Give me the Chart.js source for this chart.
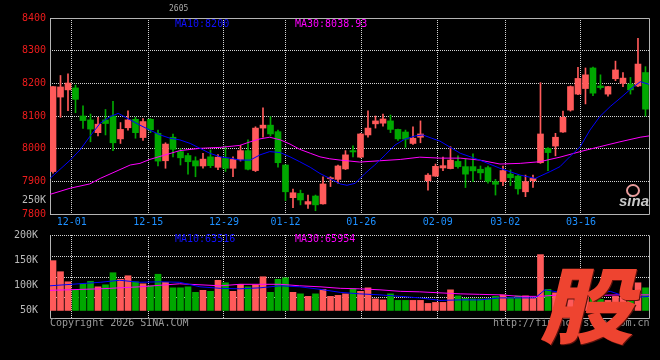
<!DOCTYPE html>
<html>
<head>
<meta charset="utf-8">
<script src="https://cdn.jsdelivr.net/npm/chart.js@4.4.1/dist/chart.umd.min.js"></script>
<style>
  html, body { margin: 0; padding: 0; background: #000; }
  #wrap { position: relative; width: 660px; height: 360px; overflow: hidden; background: #000;
          font-family: 'DejaVu Sans Mono', monospace; font-size: 10px; line-height: 10px; }
  #wrap canvas { position: absolute; left: 0; }
  .txt { position: absolute; white-space: pre; }
  #logo { position: absolute; left: 553px; top: 260px; width: 84px; text-align: center;
          font-family: 'Noto Sans CJK SC'; font-weight: 900;
          font-size: 83px; line-height: 83px; color: #ee4430; transform: scaleX(1.13) skewX(-12deg);
          text-shadow: 1px 1px 0 #5a120c; }
</style>
</head>
<body>
<div id="wrap">
  <canvas id="priceChart" width="660" height="232" style="top:0"></canvas>
  <canvas id="volChart" width="660" height="140" style="top:220px"></canvas>

  <div class="txt" style="left:169px;top:5px;color:#aaa;font-size:8px;line-height:8px">2605</div>
  <div class="txt" style="left:175px;top:19px;color:#1010ff">MA10:8200</div>
  <div class="txt" style="left:295px;top:19px;color:#ff00ff">MA30:8038.93</div>
  <div class="txt" style="left:22px;top:195px;color:#bbb">250K</div>
  <div class="txt" style="left:175px;top:234px;color:#1010ff">MA10:63516</div>
  <div class="txt" style="left:295px;top:234px;color:#ff00ff">MA30:65954</div>
  <div class="txt" style="left:50px;top:318px;color:#999">Copyright 2026 SINA.COM</div>
  <div class="txt" style="left:493px;top:318px;color:#999">http://finance.sina.com.cn</div>

  <div style="position:absolute;left:626px;top:184px;width:10px;height:9px;border:2px solid #e89a9a;border-radius:50%"></div>
  <div class="txt" style="left:619px;top:193px;font-family:'Liberation Sans';font-weight:bold;font-style:italic;font-size:15px;line-height:15px;color:#c8c8c8">sina</div>

  <div id="logo">股</div>
</div>

<script>
const RED = '#ff5a5a';
const GREEN = '#00a800';
const GRID = '#d4d4d4';
const FRAME = '#b4b4b4';

// date ticks (position on the candle index axis) and their labels
const dayTicks = [2.5, 12.7, 22.8, 31, 41.1, 51.3, 60.3, 70.4];
const dayLabels = ['12-01', '12-15', '12-29', '01-12', '01-26', '02-09', '03-02', '03-16'];

const priceTicks = [7800, 7900, 8000, 8100, 8200, 8300, 8400];
const volTicks = [50, 100, 150, 200];
const volBase = 50;

// daily candles, index 0..79
const opens = [7930, 8158, 8180, 8186, 8100, 8088, 8049, 8088, 8100, 8030,
               8064, 8090, 8034, 8090, 8047, 7963, 8035, 7991, 7979, 7963,
               7947, 7975, 7943, 7970, 7940, 7967, 7994, 7933, 8063, 8072,
               8052, 7950, 7850, 7863, 7830, 7855, 7831, 7908, 7906, 7938,
               7994, 7974, 8042, 8076, 8078, 8085, 8059, 8051, 8016, 8035,
               7902, 7916, 7941, 7939, 7961, 7945, 7945, 7937, 7942, 7899,
               7899, 7922, 7916, 7868, 7902, 7957, 8001, 8008, 8051, 8118,
               8167, 8184, 8247, 8192, 8167, 8214, 8200, 8198, 8192, 8233];
const closes = [8190, 8189, 8201, 8151, 8086, 8060, 8075, 8077, 8018, 8059,
                8088, 8049, 8083, 8058, 7962, 8014, 7998, 7972, 7960, 7947,
                7968, 7948, 7974, 7940, 7967, 7994, 7937, 8063, 8072, 8045,
                7957, 7868, 7865, 7843, 7838, 7828, 7892, 7910, 7947, 7981,
                7990, 8045, 8063, 8085, 8091, 8059, 8030, 8029, 8032, 8045,
                7919, 7946, 7948, 7965, 7945, 7922, 7932, 7926, 7900, 7891,
                7933, 7911, 7877, 7899, 7909, 8045, 7988, 8035, 8096, 8190,
                8215, 8226, 8170, 8187, 8190, 8241, 8216, 8180, 8259, 8121];
const highs = [8190, 8224, 8229, 8195, 8131, 8106, 8096, 8120, 8145, 8080,
               8116, 8096, 8092, 8092, 8057, 8018, 8045, 8000, 7986, 7975,
               7986, 7996, 7982, 8008, 7975, 8010, 8027, 8067, 8125, 8098,
               8057, 7950, 7876, 7873, 7858, 7858, 7914, 7914, 7950, 7994,
               8009, 8047, 8116, 8100, 8106, 8103, 8060, 8057, 8067, 8085,
               7924, 7953, 7974, 8006, 7978, 7968, 7984, 7947, 7947, 7906,
               7947, 7935, 7919, 7919, 7919, 8202, 8003, 8047, 8115, 8192,
               8249, 8247, 8250, 8226, 8191, 8268, 8233, 8218, 8338, 8251];
const lows = [7925, 8096, 8116, 8110, 8062, 8021, 8039, 8042, 7994, 8016,
              8057, 8032, 8025, 8049, 7947, 7940, 7975, 7950, 7922, 7914,
              7940, 7942, 7936, 7930, 7914, 7962, 7935, 7930, 8035, 8039,
              7943, 7841, 7819, 7828, 7817, 7810, 7830, 7884, 7894, 7936,
              7975, 7972, 8035, 8063, 8069, 8049, 8025, 8004, 8013, 8018,
              7873, 7915, 7933, 7938, 7940, 7881, 7899, 7906, 7894, 7858,
              7887, 7887, 7861, 7853, 7881, 7955, 7933, 7978, 8050, 8115,
              8165, 8137, 8162, 8182, 8161, 8208, 8190, 8167, 8190, 8100];
// volume in K
const volumes = [149, 127, 107, 90, 103, 108, 97, 101, 125, 112,
                 119, 107, 103, 99, 122, 106, 95, 95, 97, 86,
                 90, 88, 110, 105, 88, 102, 97, 101, 117, 86,
                 112, 115, 86, 83, 78, 83, 92, 78, 80, 83,
                 93, 88, 95, 73, 71, 83, 70, 70, 70, 70,
                 64, 66, 66, 91, 79, 74, 73, 73, 73, 78,
                 81, 76, 79, 79, 75, 161, 92, 85, 80, 75,
                 88, 90, 74, 72, 70, 78, 76, 82, 105, 95];

// moving averages (x = candle index)
const ma10X = [-0.4, 2.3, 3.6, 4.9, 6.3, 7.6, 8.7, 10.3, 11.6, 12.9, 14.3, 15.6, 16.9, 18.3, 19.6, 20.9,
               22.3, 23.6, 24.9, 26.3, 27.6, 28.9, 30.3, 31.6, 32.9, 34.3, 35.6, 36.9, 38.3, 39.2, 40.3,
               41.6, 42.9, 44.3, 45.6, 46.9, 48.3, 49.3, 50.5, 51.6, 54.3, 56.9, 59.6, 62.3, 64.3, 66.3,
               67.6, 68.9, 70.3, 71.6, 72.9, 74.3, 75.6, 76.9, 78.3, 79.47];
const ma10Y = [7909, 7965, 7996, 8037, 8078, 8098, 8108, 8088, 8072, 8057, 8042, 8032, 8027, 8016, 8001, 7986,
               7975, 7971, 7965, 7965, 7981, 7991, 7988, 7975, 7960, 7943, 7924, 7909, 7892, 7888, 7894,
               7924, 7950, 7981, 8011, 8029, 8039, 8042, 8032, 8023, 7986, 7965, 7940, 7919, 7909, 7930,
               7945, 7975, 8006, 8057, 8098, 8129, 8154, 8180, 8205, 8197];
const ma30X = [-0.4, 2.3, 4.9, 6.3, 10.3, 11.6, 12.9, 16.9, 19.6, 22.3, 24.9, 26.3, 27.6, 28.9, 30.3, 31.6,
               32.9, 34.3, 35.6, 36.9, 38.3, 40.9, 43.6, 46.3, 48.9, 51.6, 54.3, 56.9, 59.6, 62.3, 64.9,
               67.6, 70.3, 72.9, 75.6, 78.3, 79.47];
const ma30Y = [7860, 7879, 7892, 7909, 7950, 7955, 7967, 7994, 8001, 8004, 8010, 8021, 8030, 8035, 8027, 8014,
               7998, 7986, 7975, 7969, 7965, 7959, 7963, 7967, 7974, 7971, 7971, 7965, 7953, 7955, 7960,
               7974, 7991, 8006, 8021, 8035, 8039];
const volMa10X = [-0.4, 6.3, 8.9, 11.6, 14.3, 16.9, 19.6, 22.3, 24.9, 27.6, 30.3, 32.9, 35.6, 38.3, 40.9,
                  43.6, 46.3, 48.9, 51.6, 54.3, 56.9, 59.6, 62.3, 64.3, 65.6, 67.6, 71.6, 74.3, 76.9, 79.47];
const volMa10Y = [99, 106, 110, 106, 107, 106, 97, 94, 93, 95, 99, 97, 92, 86, 83,
                  81, 78, 75, 70, 71, 71, 75, 75, 75, 91, 86, 81, 88, 75, 78];
const volMa30X = [-0.4, 6.3, 11.6, 16.9, 22.3, 24.9, 30.3, 32.9, 35.6, 38.3, 40.9, 43.6, 46.3, 48.9, 51.6,
                  54.3, 56.9, 59.6, 62.3, 64.9, 67.6, 70.3, 72.9, 75.6, 79.47];
const volMa30Y = [90, 93, 97, 103, 99, 102, 102, 99, 97, 94, 93, 91, 88, 87, 85,
                  83, 82, 81, 78, 78, 81, 81, 80, 81, 81];

Chart.defaults.font.family = "'DejaVu Sans Mono', monospace";
Chart.defaults.font.size = 10;
Chart.defaults.animation = false;

const upOrDown = ctx => closes[ctx.dataIndex] >= opens[ctx.dataIndex] ? RED : GREEN;
const pts = (xs, ys) => xs.map((x, i) => ({ x: x, y: ys[i] }));

// frame around the plot area, plus optional dotted quarter lines
const framePlugin = {
  id: 'frame',
  beforeDatasetsDraw(chart, args, opts) {
    const { ctx, chartArea: a } = chart;
    ctx.save();
    ctx.lineWidth = 1;
    if (opts.quarters) {
      ctx.strokeStyle = GRID;
      ctx.setLineDash([1, 1]);
      for (let k = 0; k < 4; k++) {
        const y = Math.round(a.top + (a.bottom - a.top) * k / 4) + 0.5;
        ctx.beginPath();
        ctx.moveTo(a.left, y);
        ctx.lineTo(a.right, y);
        ctx.stroke();
      }
      ctx.setLineDash([]);
    }
    ctx.strokeStyle = FRAME;
    ctx.beginPath();
    if (!opts.quarters) {
      ctx.moveTo(a.left + 0.5, a.top + 0.5);
      ctx.lineTo(a.right + 0.5, a.top + 0.5);
    }
    ctx.moveTo(a.right + 0.5, a.top + 0.5);
    ctx.lineTo(a.right + 0.5, a.bottom + 0.5);
    ctx.lineTo(a.left + 0.5, a.bottom + 0.5);
    ctx.lineTo(a.left + 0.5, a.top + 0.5);
    ctx.stroke();
    ctx.restore();
  }
};

function xScale(showLabels, height) {
  return {
    type: 'linear', min: -0.4, max: 79.47, offset: false,
    afterBuildTicks: s => { s.ticks = dayTicks.map(v => ({ value: v })); },
    afterFit: s => { s.height = height; },
    grid: { color: GRID, drawTicks: false, offset: false },
    border: { display: false, dash: [1, 1] },
    ticks: { display: showLabels, color: '#1e90ff', padding: 2, autoSkip: false, maxRotation: 0,
             callback: (v, i) => dayLabels[i] }
  };
}

new Chart(document.getElementById('priceChart'), {
  type: 'bar',
  data: {
    datasets: [
      { type: 'line', data: pts(ma10X, ma10Y), borderColor: '#0000ff', borderWidth: 1,
        pointRadius: 0, tension: 0, order: 0 },
      { type: 'line', data: pts(ma30X, ma30Y), borderColor: '#ff00ff', borderWidth: 1,
        pointRadius: 0, tension: 0, order: 0 },
      { data: opens.map((o, i) => ({ x: i, y: [Math.min(o, closes[i]), Math.max(o, closes[i])] })),
        backgroundColor: upOrDown, barThickness: 6, grouped: false, minBarLength: 1, order: 1 },
      { data: lows.map((l, i) => ({ x: i, y: [l, highs[i]] })),
        backgroundColor: upOrDown, barThickness: 1, grouped: false, order: 2 }
    ]
  },
  options: {
    responsive: false,
    layout: { padding: { top: 18, right: 11, left: 0, bottom: 0 } },
    plugins: { legend: { display: false }, tooltip: { enabled: false }, frame: { quarters: false } },
    scales: {
      x: xScale(true, 18),
      y: {
        min: 7800, max: 8400,
        afterBuildTicks: s => { s.ticks = priceTicks.map(v => ({ value: v })); },
        afterFit: s => { s.width = 50; },
        grid: { color: GRID, drawTicks: false },
        border: { display: false, dash: [1, 1] },
        ticks: { color: '#ee1c1c', padding: 4, callback: v => String(v) }
      }
    }
  },
  plugins: [framePlugin]
});

new Chart(document.getElementById('volChart'), {
  type: 'bar',
  data: {
    datasets: [
      { type: 'line', data: pts(volMa10X, volMa10Y), borderColor: '#0000ff', borderWidth: 1,
        pointRadius: 0, tension: 0, order: 0 },
      { type: 'line', data: pts(volMa30X, volMa30Y), borderColor: '#ff00ff', borderWidth: 1,
        pointRadius: 0, tension: 0, order: 0 },
      { data: volumes.map((v, i) => ({ x: i, y: [volBase, v] })),
        backgroundColor: upOrDown, barThickness: 6, grouped: false, order: 1 }
    ]
  },
  options: {
    responsive: false,
    layout: { padding: { top: 15, right: 11, left: 0, bottom: 0 } },
    plugins: { legend: { display: false }, tooltip: { enabled: false }, frame: { quarters: true } },
    scales: {
      x: xScale(false, 42),
      y: {
        min: 35, max: 200,
        afterBuildTicks: s => { s.ticks = volTicks.map(v => ({ value: v })); },
        afterFit: s => { s.width = 50; },
        grid: { display: false },
        border: { display: false },
        ticks: { color: '#bbbbbb', padding: 4, callback: v => v + 'K' }
      }
    }
  },
  plugins: [framePlugin]
});
</script>
</body>
</html>
